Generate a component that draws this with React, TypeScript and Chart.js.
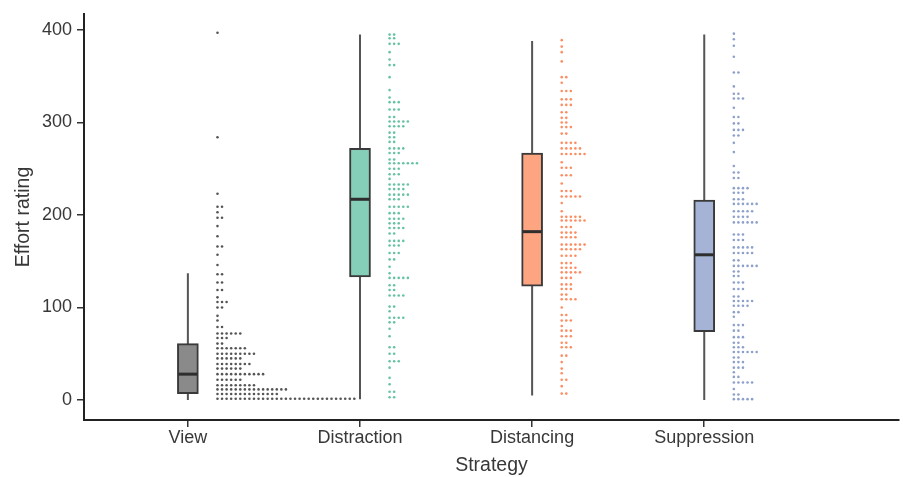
import React, { useEffect, useRef } from "react";
import { Chart, registerables } from "chart.js";
Chart.register(...registerables);

// ---------- data ----------
const categories = ["View", "Distraction", "Distancing", "Suppression"];
const yTicks = [0, 100, 200, 300, 400];

const whiskerLow = [0, 1, 5, 0];
const q1 = [7, 133, 123, 74];
const median = [28, 217, 182, 157];
const q3 = [61, 272, 267, 216];
const whiskerHigh = [137, 395, 388, 395];

// dot-plot rows: value of each row and number of dots in it
const viewDotValues = [397, 284, 223, 209, 203, 197, 188, 177, 166, 157, 146, 136, 127, 119, 111, 106, 100, 91, 86, 79, 72, 67, 61, 56, 50, 45, 39, 34, 28, 22, 16, 11.5, 6.5, 1.4];
const viewDotCounts = [1, 1, 1, 2, 1, 2, 1, 1, 2, 1, 1, 2, 2, 2, 1, 3, 2, 1, 1, 2, 6, 3, 2, 7, 9, 6, 8, 6, 11, 6, 9, 16, 14, 31];

const distractionDotValues = [395, 391, 385, 376, 368, 362, 349, 335, 327, 322, 314, 306, 301, 296, 289, 284, 279, 272, 267, 260, 256, 250, 244, 239, 233, 228, 222, 217, 209, 202, 196, 191, 186, 180, 172, 167, 159, 152, 144, 137, 132, 124, 119, 113, 101, 96, 89, 84, 77, 69, 57, 50, 42, 35, 24, 17, 9, 3];
const distractionDotCounts = [2, 2, 3, 1, 1, 2, 1, 1, 1, 3, 3, 2, 5, 4, 2, 2, 2, 4, 3, 2, 7, 3, 3, 1, 5, 4, 5, 3, 5, 3, 4, 3, 4, 2, 4, 3, 3, 2, 1, 1, 5, 2, 2, 4, 2, 1, 4, 2, 1, 1, 2, 2, 3, 1, 1, 1, 2, 2];

const distancingDotValues = [389, 382, 376, 366, 349, 343, 334, 325, 319, 311, 305, 300, 295, 288, 278, 272, 266, 257, 251, 243, 234, 226, 220, 213, 204, 198, 194, 187, 181, 176, 168, 163, 156, 148, 143, 138, 132, 125, 120, 114, 109, 100, 92, 86, 80, 75, 69, 62, 57, 48, 41, 34, 29, 22, 15, 7];
const distancingDotCounts = [1, 1, 1, 1, 2, 1, 3, 3, 3, 2, 2, 2, 3, 2, 4, 5, 6, 1, 3, 3, 1, 3, 5, 1, 1, 5, 6, 3, 4, 4, 6, 5, 4, 3, 4, 5, 3, 3, 3, 2, 4, 1, 2, 3, 1, 3, 3, 2, 3, 2, 1, 1, 1, 2, 1, 2];

const suppressionDotValues = [396, 390, 383, 371, 354, 339, 331, 326, 316, 306, 299, 292, 286, 278, 268, 253, 246, 240, 229, 224, 217, 212, 204, 198, 192, 179, 173, 165, 159, 151, 145, 139, 134, 127, 120, 112, 107, 102, 95, 90, 81, 75, 68, 62, 57, 52, 46, 41, 35, 30, 25, 19, 12, 6, 1];
const suppressionDotCounts = [1, 1, 1, 1, 2, 1, 2, 3, 1, 2, 2, 3, 2, 1, 1, 1, 2, 2, 4, 3, 3, 6, 5, 4, 6, 3, 3, 5, 5, 2, 6, 2, 2, 3, 3, 2, 5, 4, 2, 1, 3, 2, 3, 2, 3, 6, 2, 3, 3, 1, 2, 5, 1, 2, 5];

// ---------- styles ----------
const FONT = "'Liberation Sans', Arial, sans-serif";
const TEXT = "#383838";
const boxFills = ["#8a8a8a", "#85ceb7", "#fda481", "#a4b3d6"];
const dotColors = ["#555555", "#66c2a5", "#fc8d62", "#8da0cb"];
const DOT_OFFSET = 0.172;
const DOT_STEP = 0.0265;

function rowPoints(i: number, values: number[], counts: number[]) {
  const pts: { x: number; y: number }[] = [];
  values.forEach((v, r) => {
    for (let k = 0; k < counts[r]; k++) pts.push({ x: i + DOT_OFFSET + k * DOT_STEP, y: v });
  });
  return pts;
}

export default function App() {
  const ref = useRef<HTMLCanvasElement>(null);
  useEffect(() => {
    if (!ref.current) return;
    const whiskerData: any[] = [];
    categories.forEach((_, i) => {
      whiskerData.push({ x: i, y: whiskerLow[i] }, { x: i, y: whiskerHigh[i] }, { x: i, y: null });
    });
    const boxData = categories.map((_, i) => ({ x: i, y: [q1[i], q3[i]] }));
    const groups = [
      [viewDotValues, viewDotCounts],
      [distractionDotValues, distractionDotCounts],
      [distancingDotValues, distancingDotCounts],
      [suppressionDotValues, suppressionDotCounts],
    ];
    const dotSets = groups.map(([vals, cnts], i) => ({
      type: "scatter" as const,
      data: rowPoints(i, vals, cnts),
      pointRadius: 1.3,
      pointBorderWidth: 0,
      pointBackgroundColor: dotColors[i],
      borderColor: dotColors[i],
      order: 0,
    }));

    const medianPlugin = {
      id: "medians",
      afterDatasetsDraw(chart: any) {
        const meta = chart.getDatasetMeta(1);
        const ys = chart.scales.y;
        const c = chart.ctx;
        c.save();
        c.strokeStyle = "#2e2e2e";
        c.lineWidth = 3;
        meta.data.forEach((bar: any, i: number) => {
          const y = ys.getPixelForValue(median[i]);
          c.beginPath();
          c.moveTo(bar.x - bar.width / 2 + 1, y);
          c.lineTo(bar.x + bar.width / 2 - 1, y);
          c.stroke();
        });
        c.restore();
      },
    };

    const tickFont = { family: FONT, size: 18 };
    const yTickFont = { family: FONT, size: 18, lineHeight: 1 };
    const titleFont = { family: FONT, size: 19.5 };

    const chart = new Chart(ref.current, {
      type: "bar",
      data: {
        datasets: [
          {
            type: "line" as const,
            data: whiskerData,
            borderColor: "#555555",
            borderWidth: 2,
            pointRadius: 0,
            spanGaps: false,
            fill: false,
            order: 3,
          } as any,
          {
            type: "bar" as const,
            data: boxData as any,
            backgroundColor: boxFills,
            borderColor: "#3a3a3a",
            borderWidth: 2,
            borderSkipped: false,
            barThickness: 21,
            grouped: false,
            order: 2,
          } as any,
          ...dotSets,
        ],
      },
      options: {
        animation: false,
        responsive: false,
        maintainAspectRatio: false,
        layout: { padding: { left: 0, right: 3, top: 13, bottom: 0 } },
        plugins: { legend: { display: false }, tooltip: { enabled: false } },
        scales: {
          x: {
            type: "linear",
            min: -0.6035,
            max: 4.1315,
            offset: false,
            afterBuildTicks: (s: any) => {
              s.ticks = categories.map((_, i) => ({ value: i }));
            },
            afterFit: (s: any) => {
              s.height = 57;
            },
            ticks: {
              callback: (v: any) => categories[v as number] ?? "",
              font: tickFont,
              color: TEXT,
              padding: 0,
              autoSkip: false,
              maxRotation: 0,
            },
            grid: { drawOnChartArea: false, drawTicks: true, tickLength: 7, color: "#333", lineWidth: 1.5, offset: false },
            border: { display: true, color: "#222", width: 2 },
            title: { display: true, text: "Strategy", font: titleFont, color: TEXT, padding: { top: 0, bottom: 0 } },
          },
          y: {
            type: "linear",
            min: -21.56,
            max: 417.25,
            afterBuildTicks: (s: any) => {
              s.ticks = yTicks.map((v) => ({ value: v }));
            },
            afterFit: (s: any) => {
              s.width = 84;
            },
            ticks: { font: yTickFont, color: TEXT, padding: 5 },
            grid: { drawOnChartArea: false, drawTicks: true, tickLength: 7, color: "#333", lineWidth: 1.5 },
            border: { display: true, color: "#222", width: 2 },
            title: { display: true, text: "Effort rating", font: titleFont, color: TEXT, padding: { top: 12, bottom: 0 } },
          },
        },
      } as any,
      plugins: [medianPlugin],
    });
    return () => chart.destroy();
  }, []);

  return (
    <div style={{ position: "fixed", left: 0, top: 0, width: 903, height: 477, background: "#fff" }}>
      <canvas ref={ref} width={903} height={477} style={{ width: 903, height: 477, display: "block" }} />
    </div>
  );
}
